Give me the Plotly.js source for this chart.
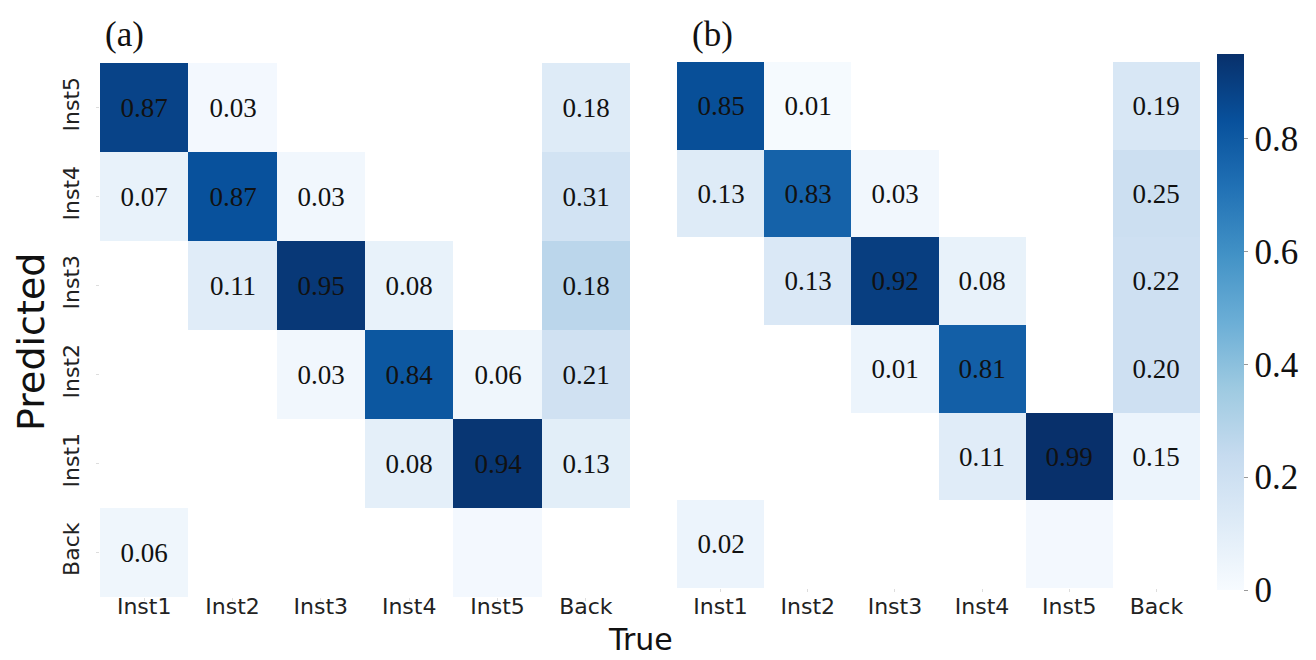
<!DOCTYPE html>
<html>
<head>
<meta charset="utf-8">
<script src="https://cdn.plot.ly/plotly-3.0.1.min.js"></script>
<style>html,body{margin:0;padding:0;background:#fff;}#chart{width:1316px;height:660px;}</style>
</head>
<body>
<div id="chart"></div>
<script>
// Categories
const trueLabels = ['Inst1', 'Inst2', 'Inst3', 'Inst4', 'Inst5', 'Back'];
const predLabels = ['Inst5', 'Inst4', 'Inst3', 'Inst2', 'Inst1', 'Back']; // top to bottom

// Printed values, panel (a) (null = empty cell)
const valuesA = [
  [0.87, 0.03, null, null, null, 0.18],
  [0.07, 0.87, 0.03, null, null, 0.31],
  [null, 0.11, 0.95, 0.08, null, 0.18],
  [null, null, 0.03, 0.84, 0.06, 0.21],
  [null, null, null, 0.08, 0.94, 0.13],
  [0.06, null, null, null, null, null]
];
// Printed values, panel (b)
const valuesB = [
  [0.85, 0.01, null, null, null, 0.19],
  [0.13, 0.83, 0.03, null, null, 0.25],
  [null, 0.13, 0.92, 0.08, null, 0.22],
  [null, null, 0.01, 0.81, null, 0.20],
  [null, null, null, 0.11, 0.99, 0.15],
  [0.02, null, null, null, null, null]
];
// Cell shading, panel (a)
const shadeA = [
  [0.88, 0.02, null, null, null, 0.12],
  [0.07, 0.83, 0.03, null, null, 0.18],
  [null, 0.11, 0.92, 0.07, null, 0.27],
  [null, null, 0.03, 0.81, 0.04, 0.19],
  [null, null, null, 0.09, 0.93, 0.10],
  [0.04, null, null, null, 0.02, null]
];
// Cell shading, panel (b)
const shadeB = [
  [0.84, 0.01, null, null, null, 0.15],
  [0.12, 0.77, 0.03, null, null, 0.21],
  [null, 0.14, 0.90, 0.07, null, 0.20],
  [null, null, 0.05, 0.78, null, 0.20],
  [null, null, null, 0.11, 0.95, 0.05],
  [0.05, null, null, null, 0.02, null]
];
const cbTicks = [0, 0.2, 0.4, 0.6, 0.8];

const W = 1316, H = 660;
const px = v => v / W, py = v => 1 - v / H;
const toText = m => m.map(r => r.map(v => v === null ? '' : v.toFixed(2)));

const blues = [[0,'#f7fbff'],[0.125,'#deebf7'],[0.25,'#c6dbef'],[0.375,'#9ecae1'],[0.5,'#6baed6'],[0.625,'#4292c6'],[0.75,'#2171b5'],[0.875,'#08519c'],[1,'#08306b']];

const cellFont = {family: 'Liberation Serif, Times New Roman, serif', size: 27, color: '#111'};

const traceA = {
  type: 'heatmap', x: trueLabels, y: predLabels, z: shadeA,
  text: toText(valuesA), texttemplate: '%{text}', textfont: cellFont,
  coloraxis: 'coloraxis', xaxis: 'x', yaxis: 'y', hoverinfo: 'skip'
};
const traceB = {
  type: 'heatmap', x: trueLabels, y: predLabels, z: shadeB,
  text: toText(valuesB), texttemplate: '%{text}', textfont: cellFont,
  coloraxis: 'coloraxis', xaxis: 'x2', yaxis: 'y2', hoverinfo: 'skip'
};

const tickFont = {family: 'DejaVu Sans, Verdana, sans-serif', size: 22, color: '#222'};
const axX = (dom, standoff) => ({domain: dom, type: 'category', showgrid: false, zeroline: false, showline: false,
  ticks: 'outside', ticklen: 3, tickcolor: '#ddd', tickfont: tickFont, ticklabelstandoff: standoff});
const axY = (dom, anchor) => ({domain: dom, type: 'category', autorange: 'reversed', showgrid: false, zeroline: false,
  showline: false, ticks: 'outside', ticklen: 3, tickcolor: '#ddd', tickfont: tickFont, tickangle: -90, anchor: anchor,
  ticklabelstandoff: 8});

const layout = {
  width: W, height: H,
  margin: {l: 0, r: 0, t: 0, b: 0},
  paper_bgcolor: '#fff', plot_bgcolor: '#fff',
  xaxis: Object.assign(axX([px(100), px(630)], -13), {anchor: 'y'}),
  yaxis: axY([py(597), py(63)], 'x'),
  xaxis2: Object.assign(axX([px(677), px(1200)], -4), {anchor: 'y2'}),
  yaxis2: Object.assign(axY([py(588), py(62)], 'x2'), {showticklabels: false, ticks: ''}),
  coloraxis: {
    colorscale: blues, cmin: 0, cmax: 0.95,
    colorbar: {
      x: px(1217), xanchor: 'left', xpad: 0, ypad: 0,
      y: py(590), yanchor: 'bottom', len: (590 - 54) / H, lenmode: 'fraction',
      thickness: 27, outlinewidth: 0,
      tickvals: cbTicks, ticks: 'outside', ticklen: 4, tickcolor: '#999',
      tickfont: {family: 'Liberation Serif, Times New Roman, serif', size: 35, color: '#111'}
    }
  },
  annotations: [
    {text: '(a)', x: px(103), y: py(34), xref: 'paper', yref: 'paper', xanchor: 'left', yanchor: 'middle', showarrow: false,
     font: {family: 'Liberation Serif, Times New Roman, serif', size: 35, color: '#111'}},
    {text: '(b)', x: px(690), y: py(34), xref: 'paper', yref: 'paper', xanchor: 'left', yanchor: 'middle', showarrow: false,
     font: {family: 'Liberation Serif, Times New Roman, serif', size: 35, color: '#111'}},
    {text: 'Predicted', x: px(31), y: py(342), xref: 'paper', yref: 'paper', xanchor: 'center', yanchor: 'middle', textangle: -90,
     showarrow: false, font: {family: 'DejaVu Sans, Verdana, sans-serif', size: 38, color: '#111'}},
    {text: 'True', x: px(640), y: py(639), xref: 'paper', yref: 'paper', xanchor: 'center', yanchor: 'middle', showarrow: false,
     font: {family: 'DejaVu Sans, Verdana, sans-serif', size: 30, color: '#111'}}
  ]
};

Plotly.newPlot('chart', [traceA, traceB], layout, {displayModeBar: false, staticPlot: true});
</script>
</body>
</html>
